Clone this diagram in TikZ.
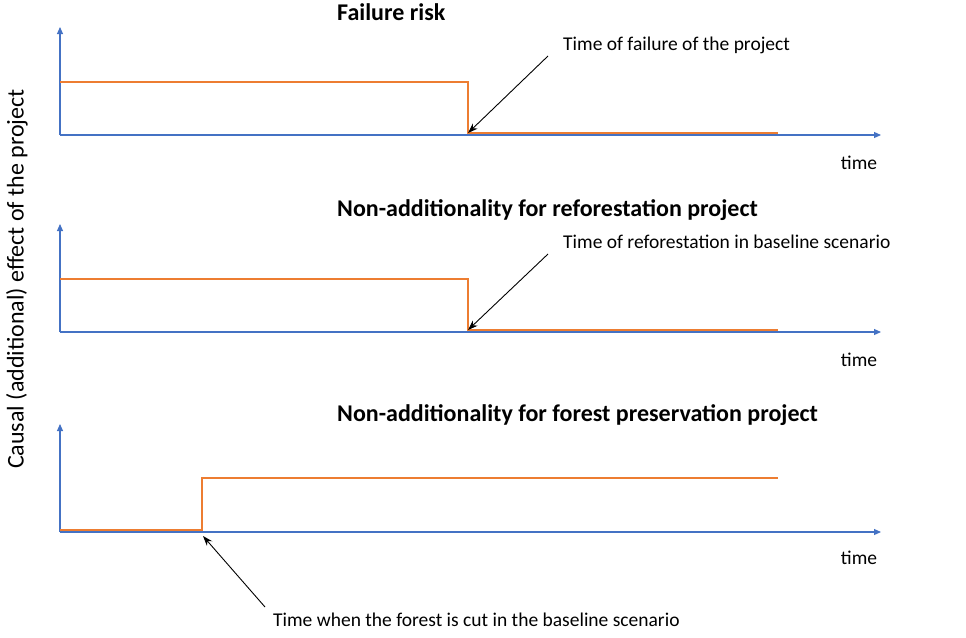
\documentclass[tikz,border=0pt]{standalone}
\usepackage{fontspec}
\setmainfont{Carlito}
\usetikzlibrary{arrows.meta,positioning}
\definecolor{axisblue}{RGB}{68,114,196}
\definecolor{steporange}{RGB}{237,125,49}
\newcommand{\txtsize}{\fontsize{19.5}{23}\selectfont}
\newcommand{\bigsize}{\fontsize{24}{28}\selectfont}
\tikzset{
  axisline/.style={draw=axisblue,line width=1.1pt,-{Triangle[length=7pt,width=6pt]}},
  stepline/.style={draw=steporange,line width=2pt},
  pointer/.style={draw=black,line width=0.9pt,-{Stealth[length=10pt,width=7pt]}},
  ttl/.style={font=\bigsize\bfseries,inner sep=0pt,anchor=west},
  lbl/.style={inner sep=0pt,anchor=west},
  tlbl/.style={inner sep=0pt},
}

\begin{document}
\begin{tikzpicture}[x=1pt,y=-1pt,font=\txtsize]
  \useasboundingbox (0,0) rectangle (966,637);

  % y axis label
  \node[rotate=90,tlbl,font=\bigsize] (ylab) at (17,279)
        {Causal (additional) effect of the project};

  % panel 1: failure risk
  \coordinate (o1) at (60,135);
  \coordinate (y1) at (60,27);
  \coordinate (x1) at (881,135);
  \draw[axisline] (o1) -- (y1);
  \draw[axisline] (o1) -- (x1);
  \coordinate (a1) at (60,82);
  \coordinate (b1) at (468,82);
  \coordinate (c1) at (468,133);
  \coordinate (d1) at (778,133);
  \draw[stepline] (a1) -- (b1) -- (c1) -- (d1);
  \node[ttl] (ttl1) at (337,12) {Failure risk};
  \node[lbl] (lbl1) at (563,45) {Time of failure of the project};
  \coordinate (p1) at (548,56);
  \draw[pointer] (p1) -- (c1);
  \node[tlbl] (tm1) at (859,163) {time};

  % panel 2: reforestation
  \coordinate (o2) at (60,332);
  \coordinate (y2) at (60,224);
  \coordinate (x2) at (881,332);
  \draw[axisline] (o2) -- (y2);
  \draw[axisline] (o2) -- (x2);
  \coordinate (a2) at (60,279);
  \coordinate (b2) at (468,279);
  \coordinate (c2) at (468,330);
  \coordinate (d2) at (778,330);
  \draw[stepline] (a2) -- (b2) -- (c2) -- (d2);
  \node[ttl] (ttl2) at (337,210) {Non-additionality for reforestation project};
  \node[lbl] (lbl2) at (563,242) {Time of reforestation in baseline scenario};
  \coordinate (p2) at (548,254);
  \draw[pointer] (p2) -- (c2);
  \node[tlbl] (tm2) at (859,360) {time};

  % panel 3: forest preservation
  \coordinate (o3) at (60,532);
  \coordinate (y3) at (60,424);
  \coordinate (x3) at (881,532);
  \draw[axisline] (o3) -- (y3);
  \draw[axisline] (o3) -- (x3);
  \coordinate (a3) at (60,530);
  \coordinate (b3) at (202,530);
  \coordinate (c3) at (202,478);
  \coordinate (d3) at (778,478);
  \draw[stepline] (a3) -- (b3) -- (c3) -- (d3);
  \node[ttl] (ttl3) at (337,415) {Non-additionality for forest preservation project};
  \node[lbl] (lbl3) at (273,620) {Time when the forest is cut in the baseline scenario};
  \coordinate (p3) at (265,607);
  \coordinate (q3) at (203,536);
  \draw[pointer] (p3) -- (q3);
  \node[tlbl] (tm3) at (859,558) {time};
\end{tikzpicture}
\end{document}
